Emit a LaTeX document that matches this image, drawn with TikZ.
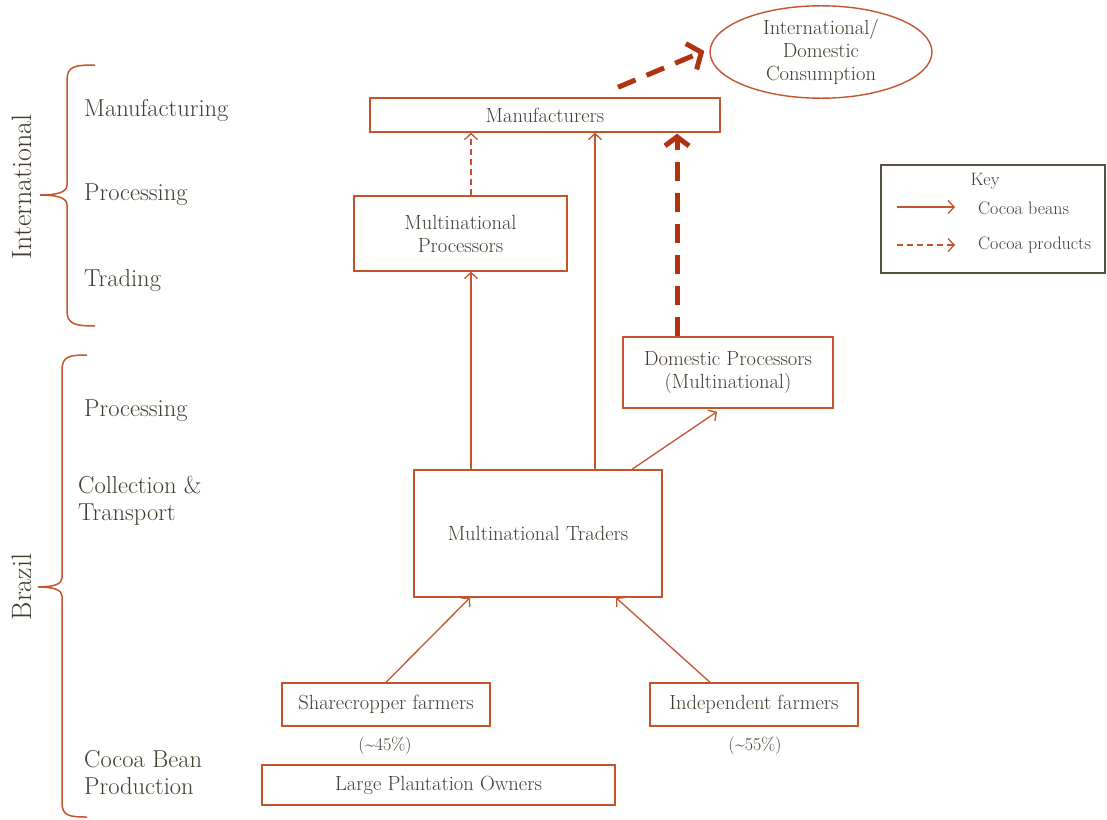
\documentclass[tikz,border=0pt]{standalone}
\usetikzlibrary{arrows.meta,shapes.geometric}
\definecolor{ln}{RGB}{196,84,44}
\definecolor{thk}{RGB}{176,50,14}
\definecolor{tx}{RGB}{66,60,48}
\definecolor{keyc}{RGB}{88,80,66}
\begin{document}
\begin{tikzpicture}[x=1pt,y=-1pt,
  box/.style={draw=ln, line width=1.4pt, text=tx, align=center, inner sep=0pt,
    font=\fontsize{20.5}{23}\selectfont},
  flow/.style={draw=ln, line width=1.3pt, -{Straight Barb[length=6pt,width=13pt]}},
  prodflow/.style={flow, dash pattern=on 6pt off 4pt},
  bigflow/.style={draw=thk, line width=5pt, dash pattern=on 19pt off 12pt,
    -{Straight Barb[length=9pt,width=24pt]}},
  stage/.style={text=tx, anchor=west, align=left, inner sep=0pt,
    font=\fontsize{24.5}{27}\selectfont},
  region/.style={text=tx, rotate=90, inner sep=0pt, font=\fontsize{28}{30}\selectfont},
  brace/.style={draw=ln, line width=1.5pt},
  note/.style={text=tx, inner sep=0pt, font=\fontsize{18}{20}\selectfont},
]
\useasboundingbox (0,0) rectangle (1107,819);

% ---- stage braces ----
\draw[brace] (95,65) .. controls (75,65) and (67,66) .. (67,80) -- (67,185)
  .. controls (67,192) and (58,195) .. (40,195)
  .. controls (58,195) and (67,198) .. (67,205) -- (67,311)
  .. controls (67,324) and (75,326) .. (95,326);
\draw[brace] (87,355) .. controls (70,355) and (62,356) .. (62,370) -- (62,578)
  .. controls (62,584) and (54,587) .. (38,587)
  .. controls (54,587) and (62,590) .. (62,596) -- (62,803)
  .. controls (62,816) and (70,817) .. (87,817);

\node[region] (intl) at (22,187) {International};
\node[region] (braz) at (22,587) {Brazil};

\node[stage] (s1) at (84,110) {Manufacturing};
\node[stage] (s2) at (84,195) {Processing};
\node[stage] (s3) at (84,280) {Trading};
\node[stage] (s4) at (84,411) {Processing};
\node[stage] (s5) at (78,501) {Collection \&\\Transport};
\node[stage] (s6) at (84,773) {Cocoa Bean\\Production};

% ---- actors ----
\node[box, minimum width=350, minimum height=34] (man) at (545,115) {Manufacturers};
\node[box, minimum width=213, minimum height=75] (mproc) at (460.5,233.5) {Multinational\\Processors};
\node[box, minimum width=210, minimum height=71] (dproc) at (728,372.5) {Domestic Processors\\(Multinational)};
\node[box, minimum width=248, minimum height=127] (trad) at (538,533.5) {Multinational Traders};
\node[box, minimum width=208, minimum height=43] (share) at (386,704.5) {Sharecropper farmers};
\node[box, minimum width=208, minimum height=43] (indep) at (754,704.5) {Independent farmers};
\node[box, minimum width=353, minimum height=40] (large) at (438.5,785) {Large Plantation Owners};
\node[box, ellipse, minimum width=222, minimum height=90] (cons) at (821,52)
  {International/\\Domestic\\Consumption};

\node[note] (p45) at (385,746) {(\textasciitilde45\%)};
\node[note] (p55) at (755,746) {(\textasciitilde55\%)};

% ---- flows ----
\draw[flow] ([xshift=-67pt]trad.north) -- ([xshift=10.5pt]mproc.south);
\draw[flow] ([xshift=57pt]trad.north) -- ([xshift=50pt]man.south);
\draw[flow] ([xshift=94pt]trad.north) -- ([xshift=-11pt,yshift=-3pt]dproc.south);
\draw[prodflow] ([xshift=10.5pt]mproc.north) -- ([xshift=-74pt]man.south);
\draw[bigflow] ([xshift=-51pt]dproc.north) -- ([xshift=132pt,yshift=-1pt]man.south);
\draw[bigflow, -{Straight Barb[length=11pt,width=28pt]}]
  ([xshift=73pt,yshift=10pt]man.north) -- ([xshift=-5pt,yshift=1pt]cons.west);
\draw[flow] (share.north) -- ([xshift=-68pt]trad.south);
\draw[flow] ([xshift=-44pt]indep.north) -- ([xshift=78pt]trad.south);

% ---- key ----
\node[draw=keyc, line width=1.5pt, minimum width=224, minimum height=108, inner sep=0pt] (key) at (993,219) {};
\node[note] (keyt) at (985,181) {Key};
\coordinate (ka) at (897,207);
\coordinate (kb) at (955,207);
\coordinate (kc) at (897,245);
\coordinate (kd) at (955,245);
\draw[flow] (ka) -- (kb);
\draw[prodflow] (kc) -- (kd);
\node[note, anchor=west] (kbeans) at (978,208) {Cocoa beans};
\node[note, anchor=west] (kprod) at (978,245) {Cocoa products};
\end{tikzpicture}
\end{document}
